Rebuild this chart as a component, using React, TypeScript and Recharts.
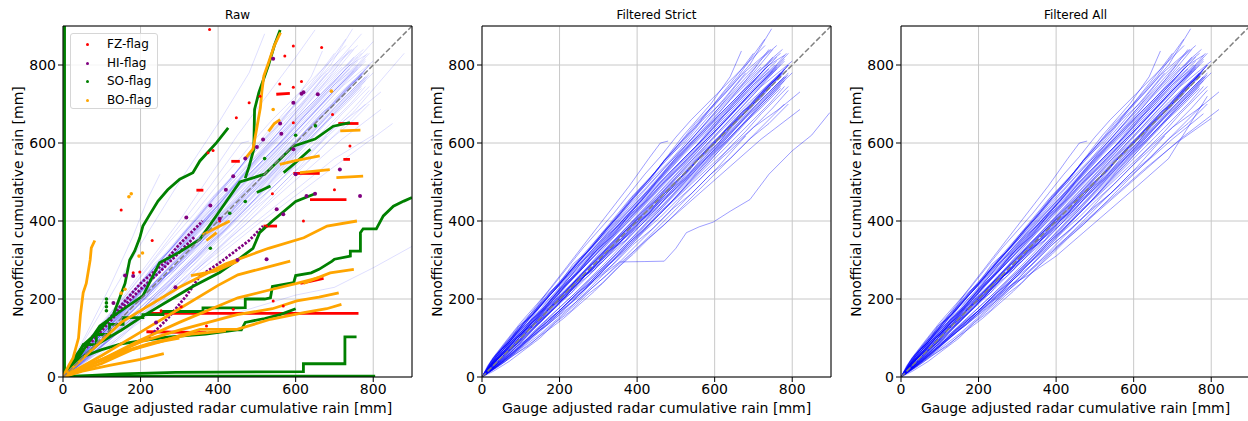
import { ComposedChart, Line, Scatter, XAxis, YAxis, CartesianGrid, ReferenceLine } from 'recharts'

type Run = number[][]

const ticks = [0, 200, 400, 600, 800]
const titles = ['Raw', 'Filtered Strict', 'Filtered All']
const xLabel = 'Gauge adjusted radar cumulative rain [mm]'
const yLabel = 'Nonofficial cumulative rain [mm]'
const diagonal: Run = [[0, 0], [900, 900]]

// station curves shared by both filtered panels (and shown faint in Raw)
const commonRuns: Run[] = [
  [[0, 0], [50, 60], [120, 130], [200, 215], [280, 300], [360, 385], [440, 470], [520, 555], [600, 640], [680, 720], [760, 800]],
  [[0, 0], [40, 55], [100, 120], [170, 190], [250, 275], [330, 360], [410, 445], [490, 530], [570, 610], [650, 700], [740, 790]],
  [[0, 0], [60, 50], [130, 120], [210, 200], [290, 285], [370, 365], [450, 450], [530, 530], [610, 615], [690, 700], [775, 780]],
  [[0, 0], [50, 45], [110, 105], [190, 180], [270, 265], [350, 345], [430, 420], [510, 500], [600, 590], [690, 680], [780, 770]],
  [[0, 0], [30, 50], [90, 125], [160, 200], [230, 275], [310, 360], [390, 445], [470, 535], [550, 620], [630, 705], [720, 795]],
  [[0, 0], [70, 60], [140, 130], [220, 210], [300, 300], [380, 385], [470, 480], [550, 565], [640, 660], [720, 745], [800, 810]],
  [[0, 0], [40, 40], [100, 95], [180, 175], [260, 255], [350, 340], [440, 430], [520, 520], [610, 610], [700, 700], [790, 800]],
  [[0, 0], [30, 40], [80, 100], [150, 180], [220, 260], [300, 350], [380, 440], [460, 525], [540, 610], [620, 700], [700, 780], [750, 840]],
  [[0, 0], [50, 70], [110, 140], [180, 215], [250, 290], [330, 375], [410, 460], [480, 540], [560, 625], [640, 710], [720, 790], [770, 830]],
  [[0, 0], [60, 70], [120, 135], [200, 225], [280, 320], [360, 405], [440, 490], [520, 580], [600, 660], [680, 740], [740, 800], [780, 825]],
  [[0, 0], [40, 30], [100, 80], [170, 150], [240, 215], [330, 305], [420, 400], [510, 495], [600, 590], [690, 690], [780, 790]],
  [[0, 0], [50, 40], [120, 100], [200, 170], [280, 245], [360, 330], [450, 420], [540, 510], [620, 600], [700, 690], [770, 760]],
  [[0, 0], [30, 50], [80, 110], [140, 175], [200, 240], [270, 320], [340, 400], [410, 485], [480, 560], [550, 640], [620, 720], [690, 800], [747, 893]],
  [[0, 0], [40, 60], [100, 130], [170, 210], [240, 290], [310, 370], [380, 455], [450, 530], [520, 610], [590, 690], [660, 770], [729, 866]],
  [[0, 0], [40, 55], [100, 125], [170, 205], [240, 285], [310, 365], [380, 445], [450, 530], [520, 620], [590, 700], [640, 770], [669, 836]],
  [[0, 0], [60, 55], [140, 140], [220, 225], [300, 310], [380, 390], [460, 475], [540, 560], [620, 650], [700, 735], [780, 815]],
  [[0, 0], [50, 35], [120, 95], [200, 165], [290, 250], [380, 345], [470, 440], [560, 540], [650, 640], [730, 730], [790, 790]],
  [[0, 0], [40, 35], [110, 110], [190, 190], [270, 280], [350, 370], [430, 455], [510, 540], [590, 625], [670, 705], [750, 785]],
  [[0, 0], [70, 50], [150, 110], [230, 180], [310, 260], [390, 345], [470, 430], [550, 515], [630, 600], [710, 690], [790, 780]],
  [[0, 0], [60, 75], [130, 150], [200, 230], [270, 310], [350, 400], [430, 480], [500, 560], [580, 640], [660, 720], [730, 790], [760, 820]],
  [[0, 0], [40, 45], [90, 100], [150, 160], [220, 240], [290, 310], [370, 395], [450, 480], [530, 560], [610, 640], [690, 725], [770, 800]],
  [[0, 0], [50, 55], [120, 125], [190, 190], [260, 265], [340, 350], [420, 435], [500, 520], [580, 605], [660, 690], [740, 770], [780, 810]],
  [[0, 0], [60, 40], [130, 90], [210, 150], [290, 220], [370, 300], [450, 380], [530, 460], [610, 540], [680, 618]],
  [[0, 0], [70, 50], [150, 120], [240, 190], [320, 260], [400, 330], [480, 400], [560, 470], [640, 540], [720, 610], [820, 686]],
  [[0, 0], [60, 45], [140, 115], [220, 190], [300, 270], [380, 345], [460, 420], [540, 495], [620, 570], [700, 640], [770, 690], [820, 731]],
  [[0, 0], [45, 50], [100, 110], [160, 165], [230, 235], [300, 305], [380, 390], [460, 470], [540, 555], [620, 640], [700, 725], [760, 790]],
  [[0, 0], [55, 70], [110, 125], [170, 185], [240, 260], [320, 340], [400, 420], [480, 505], [560, 590], [640, 670], [720, 755], [790, 830]],
  [[0, 0], [35, 30], [90, 85], [160, 150], [240, 225], [320, 305], [400, 390], [480, 475], [560, 560], [640, 645], [720, 725], [790, 800]],
  [[0, 0], [50, 60], [110, 120], [180, 200], [250, 285], [320, 360], [400, 440], [470, 520], [540, 600], [610, 675], [680, 760], [740, 840]],
  [[0, 0], [60, 60], [130, 140], [200, 215], [270, 290], [350, 380], [420, 465], [490, 545], [560, 615], [630, 685], [700, 755], [760, 810]],
  [[0, 0], [80, 60], [160, 130], [240, 200], [320, 280], [400, 360], [480, 440], [560, 530], [640, 615], [720, 700], [800, 780]],
  [[0, 0], [40, 50], [100, 115], [170, 190], [240, 265], [310, 345], [380, 420], [450, 495], [520, 570], [590, 640], [660, 715], [740, 800]],
  [[0, 0], [30, 25], [80, 70], [140, 130], [210, 200], [290, 285], [370, 370], [450, 455], [530, 540], [610, 625], [690, 705], [770, 780]],
  [[0, 0], [50, 70], [100, 120], [160, 175], [230, 250], [300, 330], [370, 410], [440, 490], [510, 575], [580, 655], [650, 735], [710, 800]],
  [[0, 0], [70, 90], [140, 170], [210, 250], [280, 330], [350, 410], [420, 490], [490, 560], [560, 640], [630, 720], [680, 780]],
  [[0, 0], [60, 50], [120, 105], [180, 160], [240, 215], [310, 280], [390, 360], [470, 445], [550, 530], [630, 615], [710, 700], [780, 770]],
  [[0, 0], [40, 60], [100, 130], [170, 220], [240, 310], [310, 400], [380, 490], [430, 560], [460, 600], [480, 605]],
]

// second batch of jagged station curves, same in both filtered panels
const commonRunsB: Run[] = [
  [[0, 0], [20, 30], [45, 50], [70, 85], [100, 110], [130, 150], [165, 180], [200, 225], [240, 260], [280, 310], [320, 345], [370, 400], [420, 445], [470, 500], [520, 545], [580, 610], [640, 670], [700, 735], [760, 795]],
  [[0, 0], [25, 20], [55, 55], [85, 80], [120, 120], [150, 140], [190, 185], [230, 215], [270, 265], [310, 295], [360, 350], [410, 390], [460, 445], [510, 490], [560, 545], [620, 600], [680, 665], [740, 720], [785, 770]],
  [[0, 0], [15, 25], [40, 60], [70, 90], [95, 130], [130, 160], [160, 205], [200, 240], [235, 290], [270, 320], [310, 370], [350, 410], [390, 460], [430, 500], [470, 555], [520, 600], [570, 660], [620, 705], [670, 765], [720, 815], [760, 850]],
  [[0, 0], [30, 20], [60, 45], [90, 70], [130, 105], [170, 135], [210, 175], [250, 205], [290, 250], [340, 290], [390, 340], [440, 380], [490, 430], [540, 470], [590, 520], [640, 560], [690, 610], [740, 650], [790, 700]],
  [[0, 0], [20, 25], [50, 55], [80, 95], [110, 120], [150, 165], [190, 200], [220, 245], [260, 280], [300, 330], [340, 365], [380, 415], [420, 450], [460, 500], [500, 540], [550, 590], [600, 650], [650, 695], [700, 750], [750, 790], [785, 830]],
  [[0, 0], [30, 40], [60, 65], [90, 100], [125, 125], [160, 170], [200, 195], [240, 245], [280, 275], [320, 325], [360, 355], [400, 405], [445, 440], [490, 495], [535, 530], [580, 585], [625, 620], [670, 680], [720, 715], [770, 775]],
  [[0, 0], [25, 35], [50, 70], [80, 100], [110, 140], [145, 175], [180, 220], [215, 255], [250, 300], [285, 335], [320, 380], [355, 420], [390, 465], [430, 505], [470, 555], [510, 600], [550, 650], [590, 690], [630, 740], [670, 790], [700, 830]],
  [[0, 0], [35, 25], [70, 55], [105, 85], [140, 120], [180, 150], [220, 190], [260, 220], [300, 265], [340, 300], [380, 345], [420, 380], [460, 425], [500, 460], [540, 505], [580, 545], [620, 590], [660, 630], [700, 675], [740, 715], [780, 760]],
  [[0, 0], [20, 15], [50, 40], [85, 75], [120, 100], [160, 140], [200, 170], [240, 210], [285, 245], [330, 290], [375, 330], [420, 375], [460, 410], [505, 455], [550, 495], [600, 545], [650, 590], [700, 640], [750, 690], [790, 735]],
  [[0, 0], [15, 30], [35, 55], [60, 80], [90, 115], [120, 140], [150, 180], [185, 210], [220, 250], [255, 285], [290, 325], [330, 365], [370, 410], [410, 450], [450, 500], [490, 540], [530, 585], [570, 625], [610, 670], [650, 710], [700, 765], [740, 810], [775, 840]],
  [[0, 0], [30, 25], [60, 60], [95, 90], [130, 130], [165, 160], [200, 200], [240, 235], [280, 275], [320, 310], [365, 355], [410, 395], [455, 445], [500, 485], [545, 530], [590, 575], [640, 625], [690, 675], [740, 725], [790, 775]],
  [[0, 0], [25, 35], [55, 60], [85, 95], [115, 125], [150, 160], [185, 195], [225, 230], [265, 270], [305, 310], [345, 350], [390, 395], [435, 440], [480, 480], [525, 525], [570, 575], [615, 620], [660, 665], [710, 715], [760, 765], [790, 800]],
  [[0, 0], [20, 20], [45, 50], [75, 75], [110, 110], [140, 145], [175, 175], [210, 215], [250, 250], [290, 295], [330, 330], [370, 375], [415, 410], [460, 455], [505, 500], [550, 550], [595, 595], [640, 640], [690, 690], [740, 740], [780, 785]],
  [[0, 0], [30, 45], [65, 80], [100, 115], [140, 150], [175, 195], [210, 230], [250, 270], [285, 315], [320, 350], [360, 395], [400, 430], [440, 475], [480, 515], [520, 560], [560, 600], [600, 645], [640, 690], [680, 735], [720, 780], [750, 820]],
  [[0, 0], [40, 30], [80, 65], [120, 100], [160, 135], [200, 170], [240, 210], [280, 245], [320, 285], [360, 320], [400, 360], [440, 400], [480, 440], [520, 480], [565, 525], [610, 570], [655, 615], [700, 660], [745, 705], [780, 745]],
  [[0, 0], [25, 30], [60, 70], [95, 100], [130, 140], [170, 175], [210, 220], [250, 255], [290, 300], [330, 335], [375, 380], [420, 420], [465, 470], [510, 510], [555, 560], [600, 600], [645, 650], [690, 690], [735, 740], [775, 780]],
  [[0, 0], [20, 35], [45, 65], [75, 95], [105, 135], [140, 170], [175, 210], [210, 245], [245, 285], [285, 320], [325, 365], [365, 400], [405, 445], [445, 485], [490, 530], [535, 575], [580, 620], [625, 670], [670, 715], [715, 760], [755, 800]],
  [[0, 0], [35, 30], [70, 70], [110, 100], [150, 145], [190, 180], [230, 225], [275, 260], [320, 305], [365, 345], [410, 390], [455, 430], [500, 475], [545, 520], [590, 565], [635, 610], [680, 655], [725, 700], [770, 745]],
  [[0, 0], [30, 35], [60, 65], [95, 105], [130, 135], [170, 180], [210, 215], [250, 260], [290, 295], [330, 340], [370, 375], [410, 420], [450, 455], [490, 500], [530, 535], [570, 580], [610, 615], [650, 660], [690, 695], [730, 740], [770, 780]],
  [[0, 0], [15, 20], [40, 50], [70, 70], [100, 105], [130, 130], [165, 170], [200, 195], [240, 240], [280, 270], [320, 315], [360, 350], [400, 395], [445, 430], [490, 475], [535, 515], [580, 560], [625, 600], [670, 645], [720, 690], [770, 740]],
]

// curves on the upper and lower edges of the bundle
const commonRunsC: Run[] = [
  [[0, 0], [25, 45], [60, 90], [100, 140], [140, 185], [180, 230], [220, 280], [260, 330], [300, 375], [340, 420], [380, 470], [420, 520], [460, 565], [500, 615], [540, 660], [580, 700], [620, 740], [660, 780], [700, 820], [730, 850]],
  [[0, 0], [30, 50], [70, 95], [110, 135], [150, 185], [190, 225], [230, 275], [270, 320], [310, 365], [350, 415], [390, 460], [430, 505], [470, 555], [510, 600], [550, 640], [590, 690], [630, 730], [670, 775], [710, 810], [745, 840]],
  [[0, 0], [30, 15], [70, 40], [110, 70], [150, 100], [190, 140], [230, 170], [270, 210], [310, 240], [350, 280], [390, 315], [430, 355], [470, 390], [510, 430], [550, 470], [590, 510], [630, 550], [670, 590], [710, 630], [750, 670], [780, 700]],
  [[0, 0], [40, 25], [80, 55], [120, 80], [160, 115], [200, 150], [240, 185], [280, 225], [320, 260], [360, 300], [400, 340], [440, 380], [480, 420], [520, 465], [560, 505], [600, 545], [640, 590], [680, 630], [720, 675], [760, 715], [790, 745]],
  [[0, 0], [20, 25], [45, 45], [70, 75], [95, 95], [125, 130], [155, 150], [185, 190], [215, 210], [250, 250], [285, 275], [320, 320], [355, 345], [390, 390], [430, 420], [470, 470], [510, 500], [550, 550], [590, 585], [630, 635], [670, 670], [710, 720], [750, 760]],
  [[0, 0], [25, 25], [50, 60], [80, 80], [110, 120], [145, 140], [180, 185], [215, 205], [250, 250], [290, 275], [330, 325], [370, 350], [410, 400], [450, 430], [490, 480], [530, 515], [570, 565], [610, 600], [650, 650], [690, 690], [730, 740], [770, 775]],
]

const strictOnlyRuns: Run[] = [
  [[0, 0], [60, 40], [130, 100], [200, 160], [260, 220], [300, 255], [355, 295], [420, 296], [470, 297], [500, 330], [527, 370], [560, 385], [596, 397], [640, 425], [691, 455], [740, 520], [800, 580], [850, 620], [897, 678]],
]

const allOnlyRuns: Run[] = [
  [[0, 0], [70, 55], [150, 120], [230, 185], [310, 255], [390, 325], [470, 395], [550, 465], [630, 535], [710, 600], [800, 663]],
  [[0, 0], [60, 50], [140, 115], [220, 180], [300, 250], [380, 330], [460, 400], [540, 470], [620, 540], [700, 610], [780, 675]],
  [[0, 0], [50, 45], [120, 105], [200, 170], [290, 240], [330, 262], [400, 310], [470, 370], [540, 430], [610, 490], [690, 560], [790, 720]],
]

const rawExtraRuns: Run[] = [
  [[0, 0], [60, 110], [120, 230], [180, 360], [220, 460], [250, 520]],
  [[0, 0], [100, 170], [200, 340], [300, 500], [400, 650], [480, 780], [520, 880]],
  [[0, 0], [150, 200], [300, 400], [450, 620], [600, 820], [650, 890]],
  [[0, 0], [200, 180], [400, 360], [600, 540], [750, 680], [880, 830]],
  [[0, 0], [200, 80], [400, 150], [600, 210], [700, 230], [800, 280], [900, 335]],
  [[0, 0], [200, 220], [400, 440], [600, 680], [700, 800], [770, 880]],
  [[0, 0], [200, 160], [400, 320], [600, 480], [700, 560], [800, 620]],
  [[0, 0], [100, 80], [300, 230], [500, 390], [700, 540], [850, 650]],
  [[0, 0], [100, 110], [300, 330], [500, 540], [700, 750], [800, 860]],
]

// flagged samples in the Raw panel
const fzRuns: Run[] = [
  [[220, 163], [762, 163]],
  [[215, 116], [370, 114]],
  [[637, 455], [731, 455]],
  [[594, 522], [662, 522]],
  [[710, 650], [762, 650]],
  [[550, 725], [585, 727]],
  [[434, 553], [456, 553]],
  [[344, 479], [362, 479]],
  [[723, 558], [740, 558]],
  [[612, 240], [640, 246], [672, 253]],
  [[517, 387], [552, 387]],
]
const fzDots: Run = [
  [150, 428], [378, 891], [667, 845], [594, 849], [572, 823], [559, 751], [615, 758], [594, 743], [447, 665], [480, 703],
  [508, 720], [374, 575], [387, 581], [594, 652], [695, 673], [740, 592], [370, 131], [542, 195], [568, 182], [439, 174],
  [404, 400], [525, 387], [198, 269], [181, 267], [305, 180], [253, 170], [230, 350], [620, 400], [700, 480], [540, 470],
]

const hiRuns: Run[] = [
  [[30, 45], [77, 105], [120, 150], [160, 195], [200, 240], [258, 290], [300, 340], [330, 370], [360, 400]],
  [[60, 75], [110, 130], [150, 175], [200, 225], [250, 270], [300, 320], [340, 360]],
  [[220, 100], [270, 150], [318, 208], [353, 259], [400, 290], [439, 319], [480, 350], [516, 387]],
]
const hiDots: Run = [
  [542, 816], [615, 726], [657, 725], [563, 624], [594, 584], [628, 464], [551, 430], [568, 417], [404, 406], [318, 409],
  [525, 302], [714, 532], [766, 464], [181, 259], [380, 440], [420, 480], [439, 515], [470, 560], [500, 590], [516, 609],
  [560, 650], [594, 703], [620, 730], [450, 300], [600, 520], [650, 470], [240, 140], [290, 230], [130, 190], [160, 260],
]

const soRuns: Run[] = [
  [[4, 0], [4, 900]],
  [[0, 2], [805, 2]],
  [[0, 0], [150, 8], [290, 12], [620, 14], [620, 34], [727, 34], [727, 103], [757, 103]],
  [[0, 0], [40, 60], [52, 83], [86, 83], [86, 109], [120, 109], [120, 135], [155, 135], [155, 152], [206, 152], [206, 160], [258, 160], [258, 168], [361, 168], [361, 177], [449, 177], [470, 178], [470, 200], [520, 200], [535, 203], [540, 232], [595, 242], [600, 260], [640, 267], [660, 276], [694, 297], [700, 302], [741, 310], [741, 323], [767, 323], [767, 370], [774, 380], [808, 380], [826, 413], [852, 438], [879, 451], [900, 460]],
  [[0, 0], [30, 40], [60, 55], [100, 70], [150, 85], [250, 100], [300, 105], [368, 110], [449, 121], [460, 121], [470, 140], [520, 150], [560, 160], [600, 175]],
  [[0, 0], [30, 50], [55, 85], [90, 115], [130, 160], [160, 240], [172, 300], [185, 323], [198, 357], [206, 387], [224, 417], [245, 451], [270, 480], [301, 507], [335, 524], [353, 554], [396, 601], [426, 639]],
  [[470, 510], [480, 540], [492, 584], [494, 686], [505, 729], [530, 800], [545, 850], [560, 890]],
  [[0, 0], [50, 50], [95, 88], [150, 120], [206, 156], [280, 200], [331, 230], [404, 268], [450, 300], [490, 330], [507, 370], [540, 400], [600, 450], [650, 470]],
  [[0, 0], [40, 50], [95, 131], [150, 170], [206, 208], [249, 293], [300, 320], [353, 353], [400, 420], [456, 500], [520, 520], [594, 592], [650, 610], [697, 643], [740, 652]],
  [[500, 473], [535, 490]],
  [[569, 524], [600, 550], [638, 584]],
]
const soDots: Run = [
  [651, 644], [470, 450], [112, 170], [112, 180], [112, 190], [112, 200], [520, 560], [600, 620], [430, 420], [380, 330],
]

const boRuns: Run[] = [
  [[0, 0], [15, 30], [26, 49], [40, 100], [45, 160], [52, 216], [60, 240], [70, 300], [73, 331], [82, 350]],
  [[470, 560], [490, 585], [500, 640], [509, 691], [513, 733], [518, 772], [530, 806], [545, 850], [561, 883]],
  [[0, 0], [100, 35], [181, 71], [250, 90], [353, 122], [449, 122], [535, 148], [621, 165], [680, 175], [718, 186]],
  [[0, 0], [100, 45], [200, 90], [300, 120], [449, 160], [540, 175], [603, 195], [660, 205], [711, 216]],
  [[0, 0], [100, 55], [200, 115], [300, 175], [400, 235], [451, 262], [520, 280], [586, 297]],
  [[620, 240], [689, 267], [750, 276]],
  [[0, 0], [150, 140], [300, 230], [420, 290], [530, 330], [621, 357], [681, 387], [758, 400]],
  [[0, 0], [100, 45], [200, 95], [300, 140], [451, 203], [540, 225], [603, 240], [660, 255]],
  [[0, 0], [80, 35], [160, 65], [240, 90], [330, 110], [420, 118]],
  [[0, 0], [60, 30], [140, 60], [220, 85], [300, 100]],
  [[0, 0], [50, 15], [120, 30], [200, 45], [260, 60]],
  [[559, 545], [600, 555], [662, 567]],
  [[611, 524], [650, 528], [688, 532]],
  [[705, 511], [740, 513], [774, 515]],
  [[715, 631], [767, 633]],
  [[530, 630], [545, 650], [560, 660]],
  [[370, 350], [396, 370]],
  [[360, 365], [430, 400]],
  [[330, 260], [395, 272], [451, 297]],
]
const boDots: Run = [[150, 215], [160, 225], [196, 310], [205, 318], [170, 462], [176, 470], [542, 686], [692, 733]]

const legendItems = [
  { label: 'FZ-flag', color: '#ff0000' },
  { label: 'HI-flag', color: '#800080' },
  { label: 'SO-flag', color: '#008000' },
  { label: 'BO-flag', color: '#ffa500' },
]

const toPts = (run: Run) => run.map(([x, y]) => ({ x, y }))

const faint = (runs: Run[], key: string, opacity: number) =>
  runs.map((r, i) => (
    <Line
      key={key + i}
      data={toPts(r)}
      dataKey="y"
      type="linear"
      stroke="#0000ff"
      strokeOpacity={opacity}
      strokeWidth={1}
      dot={false}
      activeDot={false}
      isAnimationActive={false}
    />
  ))

const flagRuns = (runs: Run[], key: string, color: string, dash?: string) =>
  runs.map((r, i) => (
    <Line
      key={key + i}
      data={toPts(r)}
      dataKey="y"
      type="linear"
      stroke={color}
      strokeWidth={2.8}
      strokeDasharray={dash}
      dot={false}
      activeDot={false}
      isAnimationActive={false}
    />
  ))

const flagDots = (dots: Run, key: string, color: string, r: number) => (
  <Scatter
    key={key}
    data={toPts(dots)}
    dataKey="y"
    fill={color}
    isAnimationActive={false}
    shape={(p: any) => <circle cx={p.cx} cy={p.cy} r={r} fill={color} />}
  />
)

function Panel({ left, title, children }: { left: number; title: string; children: any }) {
  return (
    <div style={{ position: 'absolute', left, top: 0, width: 420, height: 421 }}>
      <ComposedChart width={420} height={421} margin={{ top: 26, right: 8, bottom: 18, left: 18 }}>
        <CartesianGrid stroke="#c8c8c8" strokeWidth={1} />
        <XAxis
          type="number"
          dataKey="x"
          domain={[0, 900]}
          ticks={ticks}
          allowDataOverflow
          height={26}
          tickSize={5}
          tick={{ fontSize: 14, fill: '#000' }}
          tickLine={{ stroke: '#000' }}
          axisLine={{ stroke: '#000' }}
          label={{ value: xLabel, position: 'bottom', offset: 0, fontSize: 14, fill: '#000' }}
        />
        <YAxis
          type="number"
          dataKey="y"
          domain={[0, 900]}
          ticks={ticks}
          allowDataOverflow
          width={45}
          tickSize={5}
          tick={{ fontSize: 14, fill: '#000' }}
          tickLine={{ stroke: '#000' }}
          axisLine={{ stroke: '#000' }}
          label={{ value: yLabel, angle: -90, position: 'left', offset: 0, fontSize: 14, fill: '#000', style: { textAnchor: 'middle' } }}
        />
        {children}
        <Line
          data={toPts(diagonal)}
          dataKey="y"
          type="linear"
          stroke="#808080"
          strokeWidth={1.5}
          strokeDasharray="5.5 2.4"
          dot={false}
          activeDot={false}
          isAnimationActive={false}
        />
        <ReferenceLine x={900} stroke="#000" />
        <ReferenceLine y={900} stroke="#000" />
      </ComposedChart>
      <div
        style={{
          position: 'absolute',
          left: 63,
          width: 349,
          top: 8,
          textAlign: 'center',
          fontSize: 12,
          lineHeight: '14px',
        }}
      >
        {title}
      </div>
    </div>
  )
}

export default function App() {
  return (
    <div
      style={{
        position: 'absolute',
        left: 0,
        top: 0,
        width: 1248,
        height: 421,
        overflow: 'hidden',
        background: '#fff',
        fontFamily: '"DejaVu Sans", sans-serif',
        color: '#000',
      }}
    >
      <Panel left={0} title={titles[0]}>
        {faint(commonRuns, 'rc', 0.13)}
        {faint(commonRunsB, 'rb', 0.13)}
        {faint(commonRunsC, 'rx', 0.13)}
        {faint(rawExtraRuns, 're', 0.13)}
        {flagRuns(fzRuns, 'fz', '#ff0000')}
        {flagDots(fzDots, 'fzd', '#ff0000', 1.5)}
        {flagRuns(hiRuns, 'hi', '#800080', '2.5 1.5')}
        {flagDots(hiDots, 'hid', '#800080', 2)}
        {flagRuns(soRuns, 'so', '#008000')}
        {flagDots(soDots, 'sod', '#008000', 1.8)}
        {flagRuns(boRuns, 'bo', '#ffa500')}
        {flagDots(boDots, 'bod', '#ffa500', 1.8)}
      </Panel>
      <Panel left={419} title={titles[1]}>
        {faint(commonRuns, 'sc', 0.38)}
        {faint(commonRunsB, 'sb', 0.38)}
        {faint(commonRunsC, 'sx', 0.38)}
        {faint(strictOnlyRuns, 'so', 0.38)}
      </Panel>
      <Panel left={838} title={titles[2]}>
        {faint(commonRuns, 'ac', 0.38)}
        {faint(commonRunsB, 'ab', 0.38)}
        {faint(commonRunsC, 'ax', 0.38)}
        {faint(allOnlyRuns, 'ao', 0.38)}
      </Panel>
      <div
        style={{
          position: 'absolute',
          left: 70,
          top: 33,
          width: 86,
          height: 74,
          border: '1px solid #d6d6d6',
          borderRadius: 3,
          background: 'rgba(255,255,255,0.8)',
          fontSize: 12,
        }}
      >
        {legendItems.map((it, i) => (
          <div
            key={it.label}
            style={{ position: 'absolute', left: 0, top: 2 + i * 18.5, height: 16, lineHeight: '16px', width: 86 }}
          >
            <span
              style={{
                position: 'absolute',
                left: 15,
                top: 7,
                width: 3,
                height: 3,
                borderRadius: '50%',
                background: it.color,
              }}
            />
            <span style={{ position: 'absolute', left: 36 }}>{it.label}</span>
          </div>
        ))}
      </div>
    </div>
  )
}
